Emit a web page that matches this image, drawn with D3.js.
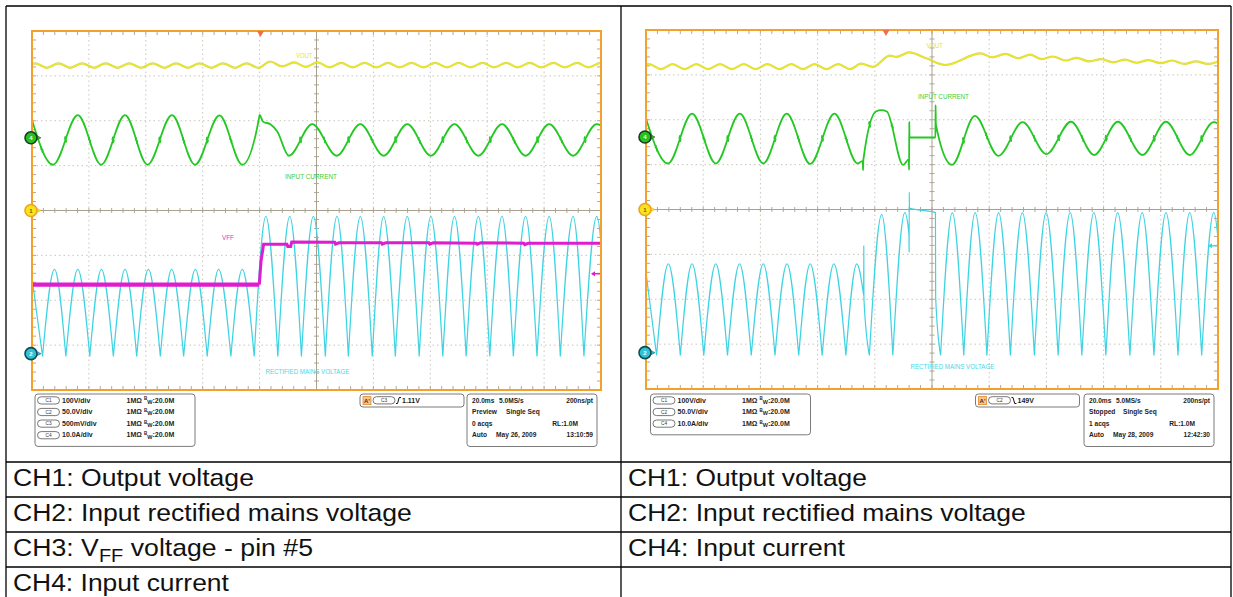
<!DOCTYPE html>
<html>
<head>
<meta charset="utf-8">
<title>PFC line step - scope captures</title>
<script src="https://cdn.jsdelivr.net/npm/d3@7/dist/d3.min.js"></script>
<style>
  html, body { margin: 0; padding: 0; background: #fff; }
  svg { display: block; font-family: "Liberation Sans", Arial, Helvetica, sans-serif; }
</style>
</head>
<body>
<svg id="page" width="1233" height="597"></svg>
<script>
// ===== Record: 10 div x 20 ms, times in ms from the left edge of the screen =====
const timeDomain = [0, 200];

// ---- Left capture (May 26, 2009) ----
// CH1 output voltage [V]
const leftOutputVoltage = [
  [-3.1,318],[1.1,328],[5.2,318],[9.4,328],[13.4,318],[17.6,328],[21.8,318],[25.9,328],
  [30.1,318],[34.2,328],[38.3,318],[42.4,328],[46.6,318],[50.6,328],[54.8,318],[58.9,328],
  [63.1,318],[67.1,328],[71.4,318],[75.4,328],[79.6,318],[83.7,332],[87.9,321],[92.1,330],
  [96.2,320],[100.4,330],[104.6,319],[108.7,329],[112.7,319],[116.9,329],[121.1,319],[125.1,329],
  [129.2,319],[133.4,329],[137.6,319],[141.7,329],[145.9,319],[150.0,329],[154.1,319],[158.4,329],
  [162.4,319],[166.7,329],[170.7,319],[175.0,329],[179.0,319],[183.3,329],[187.2,319],[191.7,329],
  [195.5,319],[200.0,329],[204.0,319]
];
// CH2 rectified mains voltage [V]
const leftMainsVoltage = [
  [-0.4,94],[3.7,-3],[7.9,94],[11.9,-3],[16.1,94],[20.3,-3],[24.4,94],[28.6,-3],[32.7,94],
  [36.8,-3],[40.9,94],[45.1,-3],[49.1,94],[53.3,-3],[57.4,94],[61.6,-3],[65.6,94],[69.9,-3],
  [73.9,94],[78.1,-3],[82.2,153],[86.4,-3],[90.6,153],[94.7,-3],[98.9,153],[103.1,-3],
  [107.2,153],[111.2,-3],[115.4,153],[119.6,-3],[123.6,153],[127.7,-3],[131.9,153],[136.1,-3],
  [140.2,153],[144.4,-3],[148.5,153],[152.6,-3],[156.9,153],[160.9,-3],[165.2,153],[169.2,-3],
  [173.5,153],[177.5,-3],[181.8,153],[185.7,-3],[190.2,153],[194.0,-3],[198.5,153],[202.5,-3]
];
// CH3 VFF voltage, pin #5 [V]
const leftVffVoltage = [
  [0,0.99],[79.9,0.99],[80.5,1.25],[81.4,1.44],[89.6,1.44],[89.9,1.415],[90.9,1.415],[91.3,1.465],
  [106.4,1.46],[106.7,1.44],[107.9,1.455],[122.8,1.455],[123.1,1.44],[124.3,1.455],[139.5,1.455],
  [139.8,1.44],[141.0,1.455],[156.2,1.45],[156.5,1.44],[157.7,1.455],[172.9,1.45],[173.2,1.435],
  [174.4,1.45],[200,1.45]
];
// CH4 input current [A]
const leftInputCurrent = [
  [-0.5,5.0],[7.4,-6.0],[16.1,5.05],[24.3,-6.0],[32.7,5.05],[40.6,-6.0],[49.2,5.05],[57.3,-6.0],
  [65.9,5.0],[73.9,-6.0],[79.8,4.4],[80.0,5.1],[81.2,3.6],[83.8,3.0],[86.2,1.4],[90.3,-4.0],
  [98.5,3.05],[107.1,-4.0],[115.4,3.05],[123.6,-4.0],[131.9,3.05],[140.2,-4.0],[148.5,3.05],
  [156.9,-4.0],[165.2,3.05],[173.5,-4.0],[181.8,3.05],[190.2,-4.0],[198.5,3.05],[206.8,-4.0]
];
// CH4 switching-noise bursts on the current slopes [ms]
const leftCurrentBursts = [3.5, 11.8, 20.2, 28.5, 36.7, 44.9, 53.3, 61.6, 69.9, 94.4, 102.8, 111.3,
  119.5, 127.8, 136.1, 144.4, 152.7, 161.1, 169.4, 177.7, 186.0, 194.4];

// ---- Right capture (May 28, 2009) ----
const rightOutputVoltage = [
  [-3.1,313],[1.1,324],[5.2,313],[9.3,324],[13.5,313],[17.6,324],[21.7,313],[25.9,324],
  [30.0,313],[34.2,324],[38.3,313],[42.5,324],[46.6,313],[50.8,324],[54.9,313],[58.9,324],
  [63.1,313],[67.2,324],[71.4,313],[75.2,325],[79.3,318],[85.3,343],[87.5,340],[92.0,350],
  [98.0,337],[104.5,322],[117.0,348],[121.1,339],[125.7,347],[130.1,337],[134.3,345],[138.4,335],
  [142.3,341],[146.7,332],[150.6,338],[155.0,330],[159.2,335],[163.3,328],[167.5,334],[171.6,327],
  [175.7,333],[179.9,326],[184.0,332],[188.2,324.5],[192.3,330],[196.5,324.5],[200.6,331]
];
const rightMainsVoltage = [
  [-0.4,99],[3.7,-3],[7.8,99],[12.0,-3],[16.1,99],[20.2,-3],[24.4,99],[28.5,-3],[32.7,99],
  [36.8,-3],[41.0,99],[45.1,-3],[49.3,99],[53.4,-3],[57.4,99],[61.6,-3],[65.7,99],[69.9,-3],
  [73.7,99],[76.1,64],[76.15,119],[76.2,60],[78.1,-3],[82.4,154],[86.3,-3],[90.5,156],
  [91.95,131],[92.0,112],[92.05,179],[92.12,161],[101.2,156],[101.28,62],[103.0,-3],
  [107.1,156],[111.1,-3],[115.1,156],[119.2,-3],[123.3,156],[127.4,-3],[131.6,156],[135.8,-3],
  [139.9,156],[144.1,-3],[148.3,156],[152.4,-3],[156.6,156],[160.8,-3],[164.9,156],[169.2,-3],
  [173.5,156],[177.6,-3],[181.8,156],[186.0,-3],[190.1,156],[194.3,-3],[198.5,156],[202.6,-3]
];
const rightInputCurrent = [
  [-0.5,5.1],[7.7,-5.9],[16.1,5.2],[24.4,-5.9],[32.8,5.2],[41.0,-5.9],[49.2,5.2],[57.4,-6.0],
  [65.9,5.2],[74.0,-5.9],[75.8,-5.3],[75.9,-7.4],[76.0,-5.1],[80.4,5.7],[82.3,6.0],[84.2,5.7],
  [89.9,-6.2],[91.9,-5.0],[92.0,-7.3],[92.05,3.4],[92.12,-0.1],[101.2,-0.1],[101.25,7.1],
  [101.35,2.8],[107.0,-6.2],[115.0,4.7],[123.2,-4.2],[131.7,3.3],[140.0,-3.8],[148.6,3.4],
  [156.7,-4.0],[165.0,3.4],[173.6,-4.0],[181.8,3.4],[190.1,-4.0],[198.5,3.3],[206.8,-4.0]
];
const rightCurrentBursts = [3.6, 11.9, 20.3, 28.6, 36.9, 45.1, 53.3, 61.7, 70.0, 78.2, 86.1, 111.0,
  119.1, 127.5, 135.9, 144.3, 152.7, 160.9, 169.3, 177.7, 186.0, 194.3];

// ---- Channel settings: volts (amps) per division and ground position in divisions ----
const leftChannels = [
  { id: 1, name: "C1", scaleText: "100V/div",  perDiv: 100, offset: 0.0 },
  { id: 2, name: "C2", scaleText: "50.0V/div", perDiv: 50,  offset: -3.19 },
  { id: 3, name: "C3", scaleText: "500mV/div", perDiv: 0.5, offset: -3.63 },
  { id: 4, name: "C4", scaleText: "10.0A/div", perDiv: 10,  offset: 1.62 }
];
const rightChannels = [
  { id: 1, name: "C1", scaleText: "100V/div",  perDiv: 100, offset: 0.0 },
  { id: 2, name: "C2", scaleText: "50.0V/div", perDiv: 50,  offset: -3.19 },
  { id: 4, name: "C4", scaleText: "10.0A/div", perDiv: 10,  offset: 1.615 }
];

// ---- Readouts ----
const leftTrigger  = { source: "C3", channel: 3, slope: "rise", level: 1.11, levelText: "1.11V", time: 80.3 };
const rightTrigger = { source: "C2", channel: 2, slope: "fall", level: 119, levelText: "149V", time: 83.9 };
const leftStatus  = [["20.0ms", "5.0MS/s", "200ns/pt"], ["Preview", "Single Seq", ""], ["0 acqs", "", "RL:1.0M"], ["Auto", "May 26, 2009", "13:10:59"]];
const rightStatus = [["20.0ms", "5.0MS/s", "200ns/pt"], ["Stopped", "Single Seq", ""], ["1 acqs", "", "RL:1.0M"], ["Auto", "May 28, 2009", "12:42:30"]];

// ---- Captions under each capture ----
const leftCaptions = [
  [["CH1: Output voltage", 0]],
  [["CH2: Input rectified mains voltage", 0]],
  [["CH3: V", 0], ["FF", 1], [" voltage - pin #5", 0]],
  [["CH4: Input current", 0]]
];
const rightCaptions = [
  [["CH1: Output voltage", 0]],
  [["CH2: Input rectified mains voltage", 0]],
  [["CH4: Input current", 0]]
];

// ===================== drawing =====================
const svg = d3.select("#page");
const COLORS = {
  frame: "#f4a12b", dots: "#cbc5ba", cross: "#a99f8d",
  1: "#ecea1c", 2: "#3dd3e3", 3: "#e01ccf", 4: "#24c824"
};

// horizontally fit a text element to a target width
function fit(sel, width) {
  sel.each(function () {
    const n = this.getComputedTextLength();
    if (n > 0) {
      const x0 = +this.getAttribute("x");
      d3.select(this).attr("transform", `translate(${x0},0) scale(${width / n},1) translate(${-x0},0)`);
    }
  });
  return sel;
}

// split a rectified-sine trace at its cusps (local minima) so each arch is smooth
function splitAtCusps(pts) {
  const segs = [];
  let cur = [pts[0]];
  for (let i = 1; i < pts.length; i++) {
    cur.push(pts[i]);
    const isMin = i < pts.length - 1 && pts[i][1] <= pts[i - 1][1] && pts[i][1] <= pts[i + 1][1];
    if (isMin) { segs.push(cur); cur = [pts[i]]; }
  }
  if (cur.length > 1) segs.push(cur);
  return segs;
}

// y of a drawn path at screen x (walks the rendered geometry)
function pathYAt(node, px) {
  const L = node.getTotalLength();
  let lo = 0, hi = L;
  for (let k = 0; k < 40; k++) {
    const mid = (lo + hi) / 2;
    if (node.getPointAtLength(mid).x < px) lo = mid; else hi = mid;
  }
  return node.getPointAtLength((lo + hi) / 2).y;
}

function drawPanel(P, idx) {
  const F = P.frame;
  const g = svg.append("g");
  const x = d3.scaleLinear().domain(timeDomain).range([F.x0, F.x1]);
  const yDiv = d3.scaleLinear().domain([-4, 4]).range([F.y1, F.y0]);
  const chan = id => P.channels.find(c => c.id === id);
  const yOf = c => v => yDiv(c.offset + v / c.perDiv);

  // graticule: dotted division lines
  const grid = g.append("g");
  grid.selectAll("line.vd").data(d3.range(20, 200, 20).filter(t => t !== 100)).join("line")
    .attr("x1", d => x(d)).attr("x2", d => x(d)).attr("y1", F.y0).attr("y2", F.y1)
    .attr("stroke", COLORS.dots).attr("stroke-width", 1).attr("stroke-dasharray", "1.5,3");
  grid.selectAll("line.hd").data(d3.range(-3, 4, 1).filter(v => v !== 0)).join("line")
    .attr("y1", d => yDiv(d)).attr("y2", d => yDiv(d)).attr("x1", F.x0).attr("x2", F.x1)
    .attr("stroke", COLORS.dots).attr("stroke-width", 1).attr("stroke-dasharray", "1.5,3");
  // centre cross
  grid.append("line").attr("x1", x(100)).attr("x2", x(100)).attr("y1", F.y0).attr("y2", F.y1)
    .attr("stroke", COLORS.cross).attr("stroke-width", 1);
  grid.append("line").attr("y1", yDiv(0)).attr("y2", yDiv(0)).attr("x1", F.x0).attr("x2", F.x1)
    .attr("stroke", COLORS.cross).attr("stroke-width", 1);
  const minorT = d3.range(0, 200.01, 4), minorV = d3.range(-4, 4.01, 0.2);
  const tick = (x1, y1, x2, y2) => grid.append("line").attr("x1", x1).attr("y1", y1).attr("x2", x2).attr("y2", y2)
    .attr("stroke", COLORS.cross).attr("stroke-width", 0.9);
  minorT.forEach(t => {
    tick(x(t), yDiv(0) - 2.5, x(t), yDiv(0) + 2.5);
    tick(x(t), F.y0, x(t), F.y0 + 4);
    tick(x(t), F.y1 - 4, x(t), F.y1);
  });
  minorV.forEach(v => {
    tick(x(100) - 2.5, yDiv(v), x(100) + 2.5, yDiv(v));
    tick(F.x0, yDiv(v), F.x0 + 4, yDiv(v));
    tick(F.x1 - 4, yDiv(v), F.x1, yDiv(v));
  });

  // traces
  const clipId = "clip" + idx;
  svg.append("clipPath").attr("id", clipId).append("rect")
    .attr("x", F.x0).attr("y", F.y0).attr("width", F.x1 - F.x0).attr("height", F.y1 - F.y0);
  const tr = g.append("g").attr("clip-path", `url(#${clipId})`);
  const smooth = c => d3.line().x(d => x(d[0])).y(d => yOf(c)(d[1])).curve(d3.curveMonotoneX);

  // CH2 rectified mains
  const c2 = chan(2);
  tr.append("path").attr("d", splitAtCusps(P.mains).map(s => smooth(c2)(s)).join(""))
    .attr("fill", "none").attr("stroke", COLORS[2]).attr("stroke-width", 1.2).attr("stroke-linejoin", "round");

  // CH3 VFF
  if (P.vff) {
    const c3 = chan(3);
    const lin = d3.line().x(d => x(d[0])).y(d => yOf(c3)(d[1]));
    tr.append("path").attr("d", lin(P.vff.filter(d => d[0] <= 80)))
      .attr("fill", "none").attr("stroke", COLORS[3]).attr("stroke-width", 4.2);
    tr.append("path").attr("d", lin(P.vff.filter(d => d[0] >= 79.9)))
      .attr("fill", "none").attr("stroke", COLORS[3]).attr("stroke-width", 3);
  }

  // CH4 input current
  const c4 = chan(4);
  const iPath = tr.append("path").attr("d", smooth(c4)(P.current))
    .attr("fill", "none").attr("stroke", COLORS[4]).attr("stroke-width", 1.8).attr("stroke-linejoin", "round");
  const iNode = iPath.node();
  P.bursts.forEach(t => {
    const bx = x(t), by = pathYAt(iNode, bx);
    tr.append("path").attr("d", `M${bx - 1.2},${by} L${bx - 0.4},${by - 3.2} L${bx + 0.4},${by + 3.2} L${bx + 1.2},${by}`)
      .attr("fill", "none").attr("stroke", COLORS[4]).attr("stroke-width", 1);
  });

  // CH1 output voltage
  const c1 = chan(1);
  tr.append("path").attr("d", smooth(c1)(P.vout))
    .attr("fill", "none").attr("stroke", "#c8c21a").attr("stroke-width", 2.2).attr("opacity", 0.7);
  tr.append("path").attr("d", smooth(c1)(P.vout))
    .attr("fill", "none").attr("stroke", COLORS[1]).attr("stroke-width", 1.2);

  // frame
  g.append("rect").attr("x", F.x0).attr("y", F.y0).attr("width", F.x1 - F.x0).attr("height", F.y1 - F.y0)
    .attr("fill", "none").attr("stroke", COLORS.frame).attr("stroke-width", 2);

  // trigger position marker
  const tx = x(P.trigger.time);
  g.append("path").attr("d", `M${tx - 3.5},${F.y0} L${tx + 3.5},${F.y0} L${tx},${F.y0 + 6} Z`).attr("fill", "#f26d4b");

  // trigger level arrow on the right edge
  const tc = chan(P.trigger.channel);
  const ty = yOf(tc)(P.trigger.level);
  g.append("line").attr("x1", F.x1 - 9).attr("x2", F.x1 - 1).attr("y1", ty).attr("y2", ty)
    .attr("stroke", COLORS[P.trigger.channel]).attr("stroke-width", 1.4);
  g.append("path").attr("d", `M${F.x1 - 10},${ty} L${F.x1 - 6},${ty - 2.5} L${F.x1 - 6},${ty + 2.5} Z`)
    .attr("fill", COLORS[P.trigger.channel]);

  // channel ground markers
  const markerStyle = {
    1: { fill: "#f6e51e", ring: "#f0a21c", txt: "#7a5a00" },
    2: { fill: "#2fc3d6", ring: "#114b55", txt: "#e8ffff" },
    4: { fill: "#22c322", ring: "#1f3b1f", txt: "#e9ffe9" }
  };
  P.channels.filter(c => markerStyle[c.id]).forEach(c => {
    const my = yDiv(c.offset), ms = markerStyle[c.id];
    g.append("path").attr("d", `M${F.x0 + 3},${my - 3} L${F.x0 + 9},${my} L${F.x0 + 3},${my + 3} Z`).attr("fill", ms.fill)
      .attr("stroke", ms.ring).attr("stroke-width", 0.5);
    g.append("circle").attr("cx", F.x0 - 1).attr("cy", my).attr("r", 6)
      .attr("fill", ms.fill).attr("stroke", ms.ring).attr("stroke-width", 1.6);
    g.append("text").attr("x", F.x0 - 1).attr("y", my + 2.2).attr("text-anchor", "middle")
      .attr("font-size", 6).attr("font-weight", "bold").attr("fill", ms.txt).text(c.id);
  });

  // on-screen trace labels
  P.labels.forEach(L => {
    fit(g.append("text").attr("x", L.x).attr("y", L.y).attr("font-size", 8).attr("fill", L.color).text(L.text), L.w);
  });

  // ---- readout boxes ----
  const B = P.boxes;
  const box = (bx, by, bw, bh) => g.append("rect").attr("x", bx).attr("y", by).attr("width", bw).attr("height", bh)
    .attr("rx", 3).attr("fill", "#fff").attr("stroke", "#7b7b7b").attr("stroke-width", 1);
  const rowY = i => B.y + 8.6 + i * 11.6;
  const label = (tx0, ty0, s, anchor, size) => g.append("text").attr("x", tx0).attr("y", ty0)
    .attr("font-size", size || 7).attr("font-weight", "bold").attr("fill", "#1d1d1d")
    .attr("text-anchor", anchor || "start").text(s);
  const pill = (px, py, s) => {
    g.append("rect").attr("x", px).attr("y", py - 5.8).attr("width", 22).attr("height", 7.2).attr("rx", 3.6)
      .attr("fill", "#fff").attr("stroke", "#555").attr("stroke-width", 0.8);
    g.append("text").attr("x", px + 11).attr("y", py - 0.4).attr("text-anchor", "middle")
      .attr("font-size", 4.8).attr("fill", "#333").text(s);
  };

  // channel settings box
  box(B.chX, B.y, 160, P.channels.length * 11.6 + 6);
  P.channels.forEach((c, i) => {
    const yy = rowY(i);
    pill(B.chX + 2.5, yy, c.name);
    label(B.chX + 27, yy, c.scaleText);
    label(B.chX + 91.5, yy, "1M\u03A9");
    const t = g.append("text").attr("x", B.chX + 109).attr("y", yy).attr("font-size", 7)
      .attr("font-weight", "bold").attr("fill", "#1d1d1d");
    t.append("tspan").attr("font-size", 4.5).attr("dy", -2.2).text("B");
    t.append("tspan").attr("font-size", 5.5).attr("dy", 3.4).text("W");
    t.append("tspan").attr("dy", -1.2).text(":20.0M");
  });

  // trigger box
  box(B.trX, B.y, 104, 13);
  const ty0 = B.y + 9.3;
  g.append("rect").attr("x", B.trX + 3).attr("y", B.y + 2.6).attr("width", 8).attr("height", 8)
    .attr("fill", "#f6c48e").attr("stroke", "#e48a2a").attr("stroke-width", 0.8);
  g.append("text").attr("x", B.trX + 7).attr("y", ty0 - 0.6).attr("text-anchor", "middle")
    .attr("font-size", 6).attr("font-weight", "bold").attr("fill", "#333").text("A'");
  pill(B.trX + 13, ty0 - 0.8, P.trigger.source);
  const sx = B.trX + 36, sy = B.y + 6.5;
  g.append("path").attr("d", P.trigger.slope === "rise"
      ? `M${sx},${sy + 3} L${sx + 1.5},${sy + 3} L${sx + 3.2},${sy - 3} L${sx + 5},${sy - 3}`
      : `M${sx},${sy - 3} L${sx + 1.5},${sy - 3} L${sx + 3.2},${sy + 3} L${sx + 5},${sy + 3}`)
    .attr("fill", "none").attr("stroke", "#111").attr("stroke-width", 1);
  label(B.trX + 42, ty0, P.trigger.levelText);

  // acquisition status box
  box(B.tbX, B.y, B.tbW, 52.5);
  P.status.forEach((row, i) => {
    const yy = rowY(i);
    if (row[0]) label(B.tbX + 5, yy, row[0], "start", 6.6);
    if (row[1]) label(B.tbX + (i === 1 ? 39 : i === 0 ? 32 : 29), yy, row[1], "start", 6.6);
    if (row[2]) label(B.tbX + B.tbW - (i === 2 ? 19 : 4), yy, row[2], "end", 6.6);
  });
}

// ---- table rules ----
const T = { l: 6, m: 621, r: 1231, t: 6, b: 597, rows: [462, 497, 532, 567] };
const hline = (x1, x2, y) => svg.append("line").attr("x1", x1).attr("x2", x2).attr("y1", y).attr("y2", y)
  .attr("stroke", "#000").attr("stroke-width", 1.3);
const vline = (xx, y1, y2) => svg.append("line").attr("x1", xx).attr("x2", xx).attr("y1", y1).attr("y2", y2)
  .attr("stroke", "#000").attr("stroke-width", 1.3);
hline(T.l, T.r, T.t);
T.rows.forEach(y => hline(T.l, T.r, y));
[T.l, T.m, T.r].forEach(xx => vline(xx, T.t, T.b));

// ---- captions ----
function caption(x0, base, parts, width) {
  const t = svg.append("text").attr("x", x0).attr("y", base).attr("font-size", 24).attr("fill", "#111");
  let shifted = false;
  parts.forEach(([s, sub]) => {
    const sp = t.append("tspan").text(s);
    if (sub) { sp.attr("font-size", 18).attr("dy", 6); shifted = true; }
    else if (shifted) { sp.attr("dy", -6); shifted = false; }
  });
  fit(t, width);
}
const leftCaptionWidths = [241, 399, 300, 216];
const rightCaptionWidths = [239, 398, 217];
leftCaptions.forEach((p, i) => caption(13, 486 + 35 * i, p, leftCaptionWidths[i]));
rightCaptions.forEach((p, i) => caption(628, 486 + 35 * i, p, rightCaptionWidths[i]));

// ---- scope screens ----
drawPanel({
  frame: { x0: 32, y0: 31, x1: 601, y1: 390 },
  channels: leftChannels,
  vout: leftOutputVoltage, mains: leftMainsVoltage, vff: leftVffVoltage, current: leftInputCurrent,
  bursts: leftCurrentBursts,
  trigger: leftTrigger, status: leftStatus,
  labels: [
    { text: "VOUT", x: 296, y: 58, w: 16.5, color: "#e4df3a" },
    { text: "INPUT CURRENT", x: 285, y: 179, w: 52, color: "#3ccd3c" },
    { text: "VFF", x: 222, y: 240.5, w: 12, color: "#d43bd0" },
    { text: "RECTIFIED MAINS VOLTAGE", x: 265.5, y: 374.5, w: 84, color: "#45d9e8" }
  ],
  boxes: { y: 394, chX: 35, trX: 360, tbX: 467, tbW: 130 }
}, 0);

drawPanel({
  frame: { x0: 646, y0: 30, x1: 1218, y1: 389 },
  channels: rightChannels,
  vout: rightOutputVoltage, mains: rightMainsVoltage, vff: null, current: rightInputCurrent,
  bursts: rightCurrentBursts,
  trigger: rightTrigger, status: rightStatus,
  labels: [
    { text: "VOUT", x: 926.5, y: 48.5, w: 16.5, color: "#e4df3a" },
    { text: "INPUT CURRENT", x: 918, y: 99.5, w: 51, color: "#3ccd3c" },
    { text: "RECTIFIED MAINS VOLTAGE", x: 910.5, y: 369.5, w: 84, color: "#45d9e8" }
  ],
  boxes: { y: 394, chX: 650.5, trX: 975.5, tbX: 1084, tbW: 130 }
}, 1);
</script>
</body>
</html>
